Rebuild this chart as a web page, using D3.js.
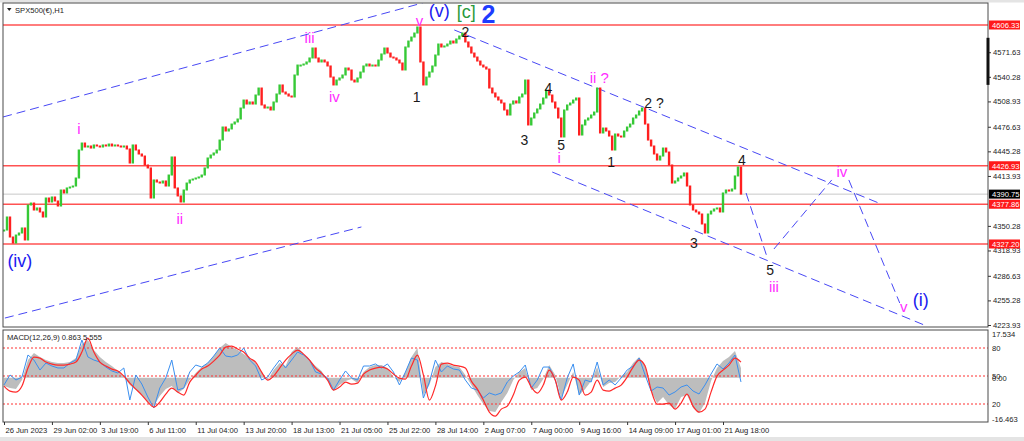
<!DOCTYPE html>
<meta charset="utf-8">
<style type="text/css">
  body { margin: 0; background: #fff; }
  svg { display: block; font-family: "Liberation Sans", Arial, sans-serif; }
  .axis text { font-size: 7.6px; fill: #222; }
  .axis line { stroke: #333; }
  .axis path { display: none; }
</style>
<body>
  <div id="chart"></div>
</body>

<script src="https://d3js.org/d3.v7.min.js"></script>
<script>

// hourly closes, resampled to one value per ~4 bars
var closes = [
  4345.0,4361.6,4336.1,4328.4,4338.6,4341.2,4347.6,4332.3,4376.9,4379.4,
  4370.5,4373.1,4368.0,4361.6,4385.8,4380.7,4387.1,4382.0,4375.6,4396.0,
  4392.2,4398.6,4399.8,4401.1,4411.3,4447.0,4455.9,4450.8,4452.1,4449.5,
  4453.4,4452.1,4450.8,4453.4,4452.1,4454.6,4452.1,4453.4,4452.1,4450.8,
  4452.1,4448.3,4430.4,4453.4,4447.0,4441.9,4439.3,4427.9,4424.1,4385.8,
  4408.8,4406.2,4404.9,4407.5,4401.1,4415.1,4438.1,4398.6,4388.4,4380.7,
  4396.0,4404.9,4408.8,4410.0,4411.3,4412.6,4415.1,4424.1,4436.8,4440.6,
  4443.2,4447.0,4459.7,4476.3,4471.2,4473.8,4480.1,4482.7,4486.5,4500.5,
  4510.7,4505.6,4508.2,4505.6,4517.1,4526.0,4504.4,4500.5,4501.8,4498.0,
  4508.2,4518.4,4529.9,4520.9,4518.4,4515.8,4514.6,4542.6,4555.3,4555.3,
  4556.6,4559.2,4564.3,4577.0,4564.3,4559.2,4561.7,4559.2,4554.1,4540.0,
  4529.9,4536.2,4538.8,4542.6,4551.5,4549.0,4536.2,4533.7,4538.8,4546.4,
  4554.1,4556.6,4554.1,4555.3,4554.1,4561.7,4569.4,4577.0,4570.6,4565.5,
  4564.3,4561.7,4557.9,4549.0,4578.3,4585.9,4591.0,4596.1,4603.8,4559.2,
  4529.9,4540.0,4546.4,4554.1,4568.1,4582.1,4578.3,4579.6,4582.1,4585.9,
  4583.4,4588.5,4592.3,4596.1,4584.7,4578.3,4570.6,4565.5,4560.4,4555.3,
  4552.8,4550.2,4526.0,4519.7,4514.6,4510.7,4506.9,4498.0,4491.6,4505.6,
  4509.5,4506.9,4514.6,4518.4,4536.2,4478.9,4487.8,4494.2,4499.3,4505.6,
  4513.3,4523.5,4517.1,4508.2,4500.5,4487.8,4463.6,4498.0,4504.4,4506.9,
  4510.7,4513.3,4466.1,4478.9,4485.2,4487.8,4491.6,4495.4,4526.0,4468.7,
  4475.0,4471.2,4464.8,4447.0,4467.4,4464.8,4463.6,4471.2,4476.3,4480.1,
  4487.8,4491.6,4496.7,4500.5,4480.1,4459.7,4452.1,4441.9,4434.2,4439.3,
  4449.5,4444.4,4427.9,4404.9,4407.5,4411.3,4413.9,4417.7,4401.1,4376.9,
  4370.5,4368.0,4365.4,4352.7,4341.2,4365.4,4369.2,4371.8,4373.1,4368.0,
  4392.2,4396.0,4394.7,4397.3,4413.9,4425.3,4390.75
];

// MACD window, one value every 2 candles
var macdMain = [
  -3.3,-4.1,-4.5,-0.9,7.1,9.9,8.3,7.1,6.3,5.9,
  5.9,6.3,7.9,13.5,15.1,11.1,8.3,6.3,4.7,2.7,
  0.3,-2.9,-4.9,-6.9,-9.7,-11.3,-7.3,-4.5,-3.3,-6.1,
  -4.5,-0.9,1.9,4.3,5.9,8.7,11.9,13.9,12.3,11.1,
  9.5,7.9,5.9,2.3,-0.9,3.1,5.9,4.7,10.3,12.3,
  9.5,7.1,4.7,2.7,-0.9,-5.3,-2.9,-1.3,-0.5,-2.1,
  2.3,4.3,5.1,5.1,3.9,0.3,-1.7,2.3,8.3,11.9,
  -6.9,-2.9,4.3,6.3,5.5,4.7,4.3,1.1,-2.9,-6.9,
  -10.5,-13.3,-13.7,-9.7,-6.1,-0.9,2.3,3.9,-4.9,-4.1,
  -0.5,5.1,1.1,-8.1,-2.9,2.3,-6.9,-4.5,-1.3,4.3,
  -3.7,-2.1,-1.7,0.7,2.3,5.9,8.3,5.1,-5.3,-10.1,
  -7.7,-10.9,-12.5,-7.7,-6.9,-12.1,-14.1,-10.1,-1.3,3.9,
  6.7,8.3,10.7,3.9
];

var macdSignal = [
  -3.3,-5.3,-5.7,-3.3,3.9,8.3,7.9,6.3,5.5,5.1,
  5.1,5.5,6.3,10.3,15.9,10.3,6.3,4.7,3.5,2.7,
  0.7,-2.1,-4.5,-6.9,-9.7,-11.7,-9.7,-6.5,-4.1,-5.7,
  -6.9,-1.7,1.1,3.5,4.7,6.7,9.1,12.3,12.7,11.5,
  10.3,7.9,6.3,2.3,-0.9,0.7,3.9,7.1,9.5,11.1,
  9.5,7.1,3.9,1.9,-0.9,-4.9,-3.7,-1.7,-2.5,-2.1,
  1.5,3.1,3.9,4.3,3.5,1.5,-0.1,-0.5,4.7,9.1,
  1.1,-8.9,-3.3,5.5,5.9,5.1,4.7,3.9,-1.3,-4.5,
  -8.9,-13.7,-15.3,-12.5,-11.3,-6.9,-0.9,0.3,-3.7,-6.1,
  -2.9,3.1,-0.9,-8.9,-5.7,0.3,-0.9,-6.9,-5.7,-0.9,
  -4.9,-5.3,-4.1,-2.9,0.3,4.3,7.1,4.7,-4.9,-10.5,
  -10.5,-10.1,-12.5,-10.1,-6.5,-11.3,-13.7,-12.5,-5.7,0.7,
  3.1,5.1,7.9,6.3
];

// the blue 0-100 oscillator drawn in the same window (levels 80/50/20)
var oscLine = [
  40.4,51.1,45.7,48.9,72.5,67.1,56.4,63.9,60.7,58.6,
  58.6,63.9,67.1,88.6,70.4,67.1,65.0,59.6,55.4,53.2,
  58.6,24.3,51.1,41.4,27.5,15.7,37.1,47.9,67.1,35.0,
  37.1,54.3,61.8,59.6,63.9,71.4,80.0,71.4,70.4,72.5,
  80.0,67.1,60.7,45.7,48.9,58.6,67.1,58.6,67.1,75.7,
  72.5,67.1,54.3,52.1,47.9,35.0,45.7,55.4,47.9,45.7,
  60.7,60.7,62.9,58.6,62.9,54.3,40.4,54.3,69.3,67.1,
  26.4,43.6,67.1,54.3,60.7,57.5,56.4,45.7,37.1,35.0,
  26.4,31.8,29.6,31.8,43.6,50.0,54.3,61.8,37.1,45.7,
  59.6,59.6,45.7,24.3,47.9,62.9,29.6,45.7,43.6,65.0,
  40.4,45.7,40.4,47.9,56.4,60.7,69.3,51.1,33.9,38.2,
  37.1,29.6,32.9,38.2,40.4,33.9,30.7,40.4,52.1,62.9,
  57.5,63.9,72.5,43.6
];
var oscLevels = [80, 50, 20];

var priceTicks = [4571.63, 4540.28, 4508.93, 4476.63, 4445.28, 4413.93,
                  4350.28, 4318.93, 4286.63, 4255.28, 4223.93];
var levelPrices = [4606.33, 4426.93, 4377.86, 4327.20];
var bidPrice = 4390.75;

var timeLabels = ["26 Jun 2023", "29 Jun 02:00", "3 Jul 19:00", "6 Jul 11:00",
  "11 Jul 04:00", "13 Jul 20:00", "18 Jul 13:00", "21 Jul 05:00", "25 Jul 22:00",
  "28 Jul 14:00", "2 Aug 07:00", "7 Aug 00:00", "9 Aug 16:00", "14 Aug 09:00",
  "17 Aug 01:00", "21 Aug 18:00"];
var timeLabelBars = [0, 16, 32, 48, 64, 80, 96, 112, 128, 144, 160, 176, 192, 208, 224, 240];

// trend channels, in bar / price
var channels = [
  [[-0.3, 4489.1], [139.7, 4634.4]],
  [[0.3, 4232.8], [119.3, 4348.9]],
  [[150.3, 4600.0], [292, 4379.4]],
  [[183, 4418.9], [308, 4222.6]]
];
// projected path
var projection = [
  [[247.7, 4392.2], [254.7, 4310.6]],
  [[257, 4320.8], [276.3, 4408.8]],
  [[282, 4408.8], [299, 4251.9]]
];

// wave counts: text, bar, price, degree
var waveLabels = [
  ["(iv)", 5.3, 4305.5, "minor"],
  ["i", 25, 4475.0, "minute"],
  ["ii", 58.7, 4360.3, "minute"],
  ["iii", 102, 4589.8, "minute"],
  ["iv", 110.3, 4514.6, "minute"],
  ["v", 138.7, 4612.7, "minute"],
  ["(v)", 145.3, 4624.2, "minor"],
  ["[c]", 154.3, 4622.9, "bracket"],
  ["2", 161.7, 4620.0, "primary"],
  ["1", 137.7, 4514.6, "sub"],
  ["2", 154, 4597.4, "sub"],
  ["3", 173.7, 4459.7, "sub"],
  ["4", 181.7, 4526.0, "sub"],
  ["5", 186, 4453.4, "sub"],
  ["i", 185.3, 4436.8, "minute"],
  ["ii ?", 198.7, 4540.0, "minute"],
  ["1", 202.7, 4431.7, "sub"],
  ["2 ?", 217, 4506.9, "sub"],
  ["3", 230.3, 4328.4, "sub"],
  ["4", 246.3, 4434.2, "sub"],
  ["5", 255.7, 4294.0, "sub"],
  ["iii", 257, 4272.4, "minute"],
  ["iv", 279.7, 4420.2, "minute"],
  ["v", 300.3, 4246.9, "minute"],
  ["(i)", 306, 4255.8, "minor"]
];

var degreeStyle = {
  minor:   {fill: "#2020f0", size: 18, weight: "normal"},
  minute:  {fill: "#ff2cff", size: 15, weight: "normal"},
  sub:     {fill: "#1a1a1a", size: 14, weight: "normal"},
  bracket: {fill: "#2a9a3c", size: 18, weight: "normal"},
  primary: {fill: "#1e3cff", size: 25, weight: "bold"}
};

var width = 1024, height = 441;
var pane = {left: 3, right: 988, top: 3, bottom: 327};
var sub = {top: 330, bottom: 422};

var bull = "#36c936", bear = "#ff2020";

var x = d3.scaleLinear().domain([0, 240]).range([4, 723]);
var y = d3.scaleLinear().domain([4223.93, 4606.33]).range([325, 25]);
var yMacd = d3.scaleLinear().domain([-16.463, 17.534]).range([419, 334]);
var yOsc = d3.scaleLinear().domain([20, 80]).range([404, 348]);

var svg = d3.select("#chart").append("svg")
    .attr("width", width)
    .attr("height", height);

svg.append("rect").attr("width", width).attr("height", 2.5).attr("fill", "#e4e4e4");
svg.append("rect").attr("y", 437).attr("width", width).attr("height", 4).attr("fill", "#e4e4e4");

var defs = svg.append("defs");
defs.append("clipPath").attr("id", "clipMain").append("rect")
    .attr("x", pane.left).attr("y", pane.top)
    .attr("width", pane.right - pane.left).attr("height", pane.bottom - pane.top);
defs.append("clipPath").attr("id", "clipSub").append("rect")
    .attr("x", pane.left).attr("y", sub.top)
    .attr("width", pane.right - pane.left).attr("height", sub.bottom - sub.top);

var main = svg.append("g").attr("clip-path", "url(#clipMain)");

// horizontal levels
main.append("line")
    .attr("x1", pane.left).attr("x2", pane.right)
    .attr("y1", y(bidPrice)).attr("y2", y(bidPrice))
    .attr("stroke", "#c8c8c8");

main.selectAll(".level").data(levelPrices).enter().append("line")
    .attr("class", "level")
    .attr("x1", pane.left).attr("x2", pane.right)
    .attr("y1", function(d){ return y(d); }).attr("y2", function(d){ return y(d); })
    .attr("stroke", "#ff5252").attr("stroke-width", 1.6);

var seg = function(d){
  return "M" + x(d[0][0]) + "," + y(d[0][1]) + "L" + x(d[1][0]) + "," + y(d[1][1]);
};

main.selectAll(".channel").data(channels.concat(projection)).enter().append("path")
    .attr("class", "channel")
    .attr("d", seg)
    .attr("fill", "none")
    .attr("stroke", "#4848f5")
    .attr("stroke-width", 1)
    .attr("stroke-dasharray", "9,5");

// candles: open is the previous close
var candles = closes.map(function(c, i){
  return {i: i, o: i ? closes[i - 1] : c, c: c};
});

main.selectAll(".candle").data(candles).enter().append("rect")
    .attr("class", "candle")
    .attr("x", function(d){ return x(d.i) - 1.2; })
    .attr("width", 2.4)
    .attr("y", function(d){ return y(Math.max(d.o, d.c)) - 0.5; })
    .attr("height", function(d){ return Math.max(2, Math.abs(y(d.o) - y(d.c)) + 1); })
    .attr("fill", function(d){ return d.c >= d.o ? bull : bear; });

// wave labels
svg.selectAll(".wave").data(waveLabels).enter().append("text")
    .attr("class", "wave")
    .attr("x", function(d){ return x(d[1]); })
    .attr("y", function(d){ return y(d[2]); })
    .attr("text-anchor", "middle")
    .attr("dominant-baseline", "central")
    .attr("fill", function(d){ return degreeStyle[d[3]].fill; })
    .attr("font-size", function(d){ return degreeStyle[d[3]].size + "px"; })
    .attr("font-weight", function(d){ return degreeStyle[d[3]].weight; })
    .text(function(d){ return d[0]; });

// title
svg.append("path").attr("d", "M7,8 L11.5,8 L9.25,11 Z").attr("fill", "#222");
svg.append("text").attr("x", 15).attr("y", 12.5)
    .attr("font-size", "7.6px").attr("fill", "#222")
    .text("SPX500(€),H1");

// MACD window
var subG = svg.append("g").attr("clip-path", "url(#clipSub)");

subG.append("path")
    .datum(macdMain)
    .attr("d", d3.area()
      .x(function(d, k){ return x(2 * k); })
      .y0(yMacd(0))
      .y1(function(d){ return yMacd(d); }))
    .attr("fill", "#bdbdbd");

subG.selectAll(".osclevel").data(oscLevels).enter().append("line")
    .attr("class", "osclevel")
    .attr("x1", pane.left).attr("x2", pane.right)
    .attr("y1", function(d){ return yOsc(d); }).attr("y2", function(d){ return yOsc(d); })
    .attr("stroke", "#ff3030").attr("stroke-dasharray", "2,2");

subG.append("path")
    .datum(oscLine)
    .attr("d", d3.line()
      .x(function(d, k){ return x(2 * k); })
      .y(function(d){ return yOsc(d); }))
    .attr("fill", "none").attr("stroke", "#3a8ff0").attr("stroke-width", 1);

subG.append("path")
    .datum(macdSignal)
    .attr("d", d3.line()
      .x(function(d, k){ return x(2 * k); })
      .y(function(d){ return yMacd(d); })
      .curve(d3.curveMonotoneX))
    .attr("fill", "none").attr("stroke", "#ff2a2a").attr("stroke-width", 1.2);

svg.append("text").attr("x", 7).attr("y", 339.5)
    .attr("font-size", "7.6px").attr("fill", "#222")
    .text("MACD(12,26,9) 0.863 5.555");

// borders
svg.append("rect")
    .attr("x", pane.left).attr("y", pane.top)
    .attr("width", pane.right - pane.left).attr("height", pane.bottom - pane.top)
    .attr("fill", "none").attr("stroke", "#4a4a4a");
svg.append("rect")
    .attr("x", pane.left).attr("y", sub.top)
    .attr("width", pane.right - pane.left).attr("height", sub.bottom - sub.top)
    .attr("fill", "none").attr("stroke", "#4a4a4a");

// price axis
var yAxis = svg.append("g").attr("class", "axis")
    .attr("transform", "translate(" + pane.right + ",0)")
    .call(d3.axisRight(y).tickValues(priceTicks).tickFormat(d3.format(".2f"))
      .tickSize(3).tickPadding(2));

svg.append("rect").attr("x", pane.right - 1.5).attr("y", y(4590))
    .attr("width", 3).attr("height", y(4530) - y(4590)).attr("fill", "#111");

var tags = levelPrices.map(function(p){ return {p: p, bg: "#ff1a1a"}; })
    .concat([{p: bidPrice, bg: "#000"}]);

var tag = svg.selectAll(".tag").data(tags).enter().append("g")
    .attr("class", "tag")
    .attr("transform", function(d){ return "translate(" + (pane.right + 1) + "," + y(d.p) + ")"; });
tag.append("rect").attr("x", 0).attr("y", -4.5).attr("width", 31).attr("height", 9)
    .attr("fill", function(d){ return d.bg; });
tag.append("text").attr("x", 3).attr("y", 2.8)
    .attr("font-size", "7.6px").attr("fill", "#fff")
    .text(function(d){ return d3.format(".2f")(d.p); });

// MACD axis labels
var subTicks = [
  {t: "17.534", v: yMacd(17.534)},
  {t: "80", v: yOsc(80)},
  {t: "50", v: yOsc(50)},
  {t: "0.00", v: yMacd(0)},
  {t: "20", v: yOsc(20)},
  {t: "-16.463", v: yMacd(-16.463)}
];
svg.selectAll(".subtick").data(subTicks).enter().append("text")
    .attr("class", "subtick")
    .attr("x", pane.right + 4).attr("y", function(d){ return d.v + 2.8; })
    .attr("font-size", "7.6px").attr("fill", "#222")
    .text(function(d){ return d.t; });

// time axis
var xAxis = svg.append("g").attr("class", "axis")
    .attr("transform", "translate(0," + sub.bottom + ")")
    .call(d3.axisBottom(x).tickValues(timeLabelBars)
      .tickFormat(function(d, i){ return timeLabels[i]; })
      .tickSize(3).tickPadding(3));
xAxis.selectAll("text").attr("text-anchor", "start").attr("dx", 1);

</script>
